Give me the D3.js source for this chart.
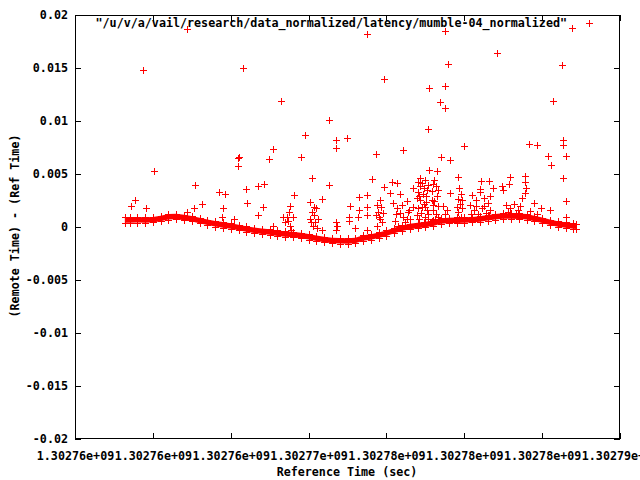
<!DOCTYPE html>
<html>
<head>
<meta charset="utf-8">
<script src="https://cdn.jsdelivr.net/npm/d3@7"></script>
<style>
body { margin: 0; background: #fff; }
text { font-family: "DejaVu Sans Mono", monospace; font-weight: bold; font-size: 11.7px; fill: #000; }
</style>
</head>
<body>
<div id="chart"></div>
<script>
// reference time is seconds since T0, values kept in ks / ms
var T0 = 1302755000;
var xTickLabels = ["1.30276e+09", "1.30276e+09", "1.30276e+09", "1.30277e+09",
	"1.30278e+09", "1.30278e+09", "1.30278e+09", "1.30279e+09"];
var yTicks = [0.02, 0.015, 0.01, 0.005, 0, -0.005, -0.01, -0.015, -0.02];
var yTickLabels = ["0.02", "0.015", "0.01", "0.005", "0", "-0.005", "-0.01", "-0.015", "-0.02"];
var seriesTitle = "\"/u/v/a/vail/research/data_normalized/latency/mumble-04_normalized\"";

// the dense band of samples (time in ks after T0, upper / lower edge in ms)
var bandTime = [3.2, 3.5, 4.0, 4.5, 5.0, 5.5, 6.0, 6.5, 7.0, 7.5, 8.0, 8.5, 9.0, 9.5, 10.0,
	10.5, 11.0, 11.5, 12.0, 12.5, 13.0, 13.5, 14.0, 14.5, 15.0, 15.5, 16.0, 16.5, 17.0, 17.5,
	18.0, 18.5, 19.0, 19.5, 20.0, 20.5, 21.0, 21.5, 22.0, 22.5, 23.0, 23.5, 24.0, 24.5, 25.0,
	25.5, 26.0, 26.5, 27.0, 27.5, 28.0, 28.5, 29.0, 29.5, 30.0, 30.5, 31.0, 31.5, 32.0, 32.2];
var bandHi = [0.92, 0.92, 0.94, 0.92, 0.95, 1.06, 1.22, 1.25, 1.16, 1.04, 0.87, 0.70, 0.56, 0.46, 0.35,
	0.22, 0.07, -0.05, -0.15, -0.22, -0.32, -0.39, -0.45, -0.55, -0.67, -0.81, -0.92, -1.01, -1.04, -1.06,
	-1.02, -0.78, -0.68, -0.51, -0.32, -0.07, 0.15, 0.31, 0.40, 0.50, 0.62, 0.83, 0.88, 0.90, 0.92,
	0.95, 1.01, 1.13, 1.22, 1.30, 1.30, 1.28, 1.22, 1.07, 0.89, 0.70, 0.55, 0.45, 0.36, 0.33];
var bandLo = [0.40, 0.40, 0.42, 0.40, 0.43, 0.54, 0.70, 0.73, 0.64, 0.52, 0.35, 0.18, 0.04, -0.06, -0.17,
	-0.30, -0.45, -0.57, -0.67, -0.74, -0.84, -0.91, -0.97, -1.07, -1.19, -1.33, -1.44, -1.53, -1.56, -1.58,
	-1.54, -1.30, -1.20, -1.03, -0.84, -0.59, -0.37, -0.21, -0.12, -0.02, 0.10, 0.31, 0.36, 0.38, 0.40,
	0.43, 0.49, 0.61, 0.70, 0.78, 0.78, 0.76, 0.70, 0.55, 0.37, 0.18, 0.03, -0.07, -0.16, -0.19];

// outliers above the band [ks, ms]
var outliers = [
	[4.37, 14.80], [7.19, 18.65], [10.79, 14.96], [13.23, 11.84], [14.77, 8.65], [16.31, 10.07],
	[16.76, 8.18], [17.47, 8.37], [16.76, 7.42], [12.72, 7.33], [18.75, 18.17], [19.84, 13.92],
	[22.73, 13.16], [22.67, 9.22], [23.76, 18.52], [23.95, 15.37], [23.76, 13.26], [23.44, 11.77],
	[23.76, 11.18], [27.10, 16.38], [30.70, 11.93], [31.28, 15.24], [31.92, 18.74], [31.34, 8.18],
	[31.34, 7.71], [21.06, 7.23], [24.98, 7.61], [29.16, 7.80], [29.67, 7.71],
	[10.47, 6.48], [10.53, 6.57], [10.47, 5.72], [12.46, 6.38], [14.51, 6.57], [19.33, 6.86],
	[23.51, 6.57], [24.08, 6.29], [30.38, 6.67], [31.53, 6.67], [30.57, 5.82], [5.07, 5.25],
	[22.73, 5.34], [23.25, 5.25], [24.60, 4.68], [27.94, 4.68], [28.90, 4.78], [28.90, 4.21],
	[31.34, 4.59], [15.22, 4.59], [19.07, 4.49], [26.07, 4.30], [26.59, 4.30], [20.36, 4.21],
	[20.68, 4.11], [27.87, 4.02], [12.14, 4.02], [16.31, 3.92], [7.71, 3.92], [11.75, 3.83],
	[27.42, 3.83], [19.84, 3.74], [28.96, 3.64], [21.71, 3.64], [26.84, 3.64], [10.98, 3.55],
	[26.01, 3.55], [27.49, 3.45], [9.25, 3.26], [9.63, 3.07], [20.23, 3.17], [24.08, 3.17],
	[28.90, 3.17], [20.87, 3.07], [14.06, 2.98], [18.75, 2.98], [18.24, 2.79], [28.71, 2.70],
	[15.86, 2.60], [3.85, 2.51], [19.59, 2.51], [31.53, 2.41], [21.32, 2.41], [15.09, 2.32],
	[29.48, 2.22], [11.05, 2.22], [8.16, 2.13], [3.60, 1.94], [13.81, 1.94], [17.66, 1.94],
	[12.07, 1.84], [15.35, 1.84], [18.75, 1.84], [19.65, 1.84], [21.71, 1.84], [4.56, 1.75],
	[7.64, 1.75], [9.50, 1.75], [18.24, 1.56], [30.51, 1.56], [7.19, 1.37], [11.75, 1.09],
	[13.36, 0.99], [14.00, 0.99], [17.60, 0.99], [9.44, 0.99], [18.75, 1.09], [18.17, 0.90],
	[31.53, 0.90], [10.21, 0.80], [17.60, 0.61], [16.76, 0.43], [12.72, 0.14], [17.98, -0.05],
	[15.86, -0.33], [18.75, -0.33], [16.76, -0.33]
];

// spiky clusters sitting on the band [ks, ms]
var clusters = [
	[13.49, 0.43], [13.68, 0.61], [13.81, 0.14], [13.74, 1.37], [13.87, -0.24], [13.62, 0.90],
	[15.22, 1.37], [15.35, 1.09], [15.41, 0.43], [15.29, 0.14], [15.09, 0.80], [15.54, -0.05],
	[15.48, 1.75], [15.16, 0.43], [15.61, 0.80],
	[16.83, 0.05],
	[19.46, 1.37], [19.52, 0.90], [19.72, 0.43], [19.40, 0.14], [19.78, 1.28], [19.40, 2.03],
	[19.59, 0.80], [19.33, 1.09],
	[20.42, 2.22], [20.68, 1.75], [20.87, 1.28], [21.06, 0.90], [21.39, 1.37], [20.55, 0.61],
	[21.19, 0.43], [21.51, 0.80], [20.62, 1.18], [21.00, 2.03], [21.32, 0.80], [20.74, 0.14],
	[21.45, 1.56],
	[22.16, 4.59], [22.28, 4.11], [22.41, 3.64], [22.03, 3.26], [22.54, 2.88], [22.16, 2.51],
	[22.41, 2.13], [22.03, 1.75], [22.61, 1.56], [22.22, 1.28], [22.48, 0.99], [22.09, 0.71],
	[22.67, 3.92], [22.35, 3.07], [21.96, 2.70], [22.54, 2.32], [22.28, 1.84], [22.16, 3.83],
	[22.67, 1.18], [22.03, 4.21], [22.48, 4.40], [22.61, 3.45], [22.09, 2.88], [22.48, 1.84],
	[22.67, 0.71], [21.96, 1.09], [22.41, 0.43],
	[23.06, 4.40], [23.18, 3.83], [22.93, 3.36], [23.25, 2.88], [23.06, 2.41], [23.31, 1.94],
	[22.99, 1.56], [23.18, 1.18], [23.12, 0.80], [22.93, 2.51], [22.99, 4.02], [23.31, 3.45],
	[22.99, 2.03], [23.31, 0.99], [22.93, 0.61],
	[24.66, 3.64], [24.79, 3.07], [24.60, 2.60], [24.73, 2.13], [24.85, 1.75], [24.60, 1.37],
	[24.79, 0.99], [24.53, 1.84], [24.85, 2.51], [24.66, 0.80],
	[25.50, 2.98], [25.76, 2.51], [25.37, 2.03], [26.01, 3.26], [26.27, 2.70], [26.52, 2.22],
	[25.63, 1.56], [26.14, 1.75], [26.39, 1.28], [25.89, 1.18], [26.65, 2.88], [26.65, 1.56],
	[25.76, 1.94], [26.27, 1.94], [25.43, 1.18], [26.59, 1.09],
	[27.68, 2.03], [27.94, 1.75], [28.19, 2.13], [28.45, 1.56], [27.81, 1.37], [28.32, 1.28],
	[28.58, 1.94],
	[23.63, 1.94], [23.89, 1.56], [23.76, 1.18], [29.22, 1.47], [29.67, 1.18], [29.93, 1.75]
];

var margin = {top: 15, right: 20, bottom: 42, left: 75};
var width = 640 - margin.left - margin.right,
	height = 481 - margin.top - margin.bottom;

var svg = d3.select("#chart").append("svg")
	.attr("width", 640)
	.attr("height", 480);

var g = svg.append("g")
	.attr("transform", "translate(" + margin.left + "," + margin.top + ")");

var xScale = d3.scaleLinear()
	.domain([T0, T0 + 35000])
	.range([0, width]);
var yScale = d3.scaleLinear()
	.domain([-0.02, 0.02])
	.range([height, 0]);

var xTicks = d3.range(0, 8).map(function (i) { return T0 + i * 5000; });

function px(t) { return xScale(T0 + t * 1000); }
function py(v) { return yScale(v / 1000); }

function plus(x, y) {
	x = Math.round(x) + 0.5;
	y = Math.round(y) + 0.5;
	return "M" + (x - 3.5) + "," + y + "H" + (x + 3.5) + "M" + x + "," + (y - 3.5) + "V" + (y + 3.5);
}

// axes, ticks pointing inward on all four sides
g.append("g")
	.attr("transform", "translate(0," + height + ")")
	.call(d3.axisBottom(xScale).tickValues(xTicks).tickSize(-6).tickPadding(13)
		.tickFormat(function (d, i) { return xTickLabels[i]; }));
g.append("g")
	.call(d3.axisTop(xScale).tickValues(xTicks).tickSize(-6).tickFormat(""));
g.append("g")
	.call(d3.axisLeft(yScale).tickValues(yTicks).tickSize(-6).tickPadding(7)
		.tickFormat(function (d, i) { return yTickLabels[i]; }));
g.append("g")
	.attr("transform", "translate(" + width + ",0)")
	.call(d3.axisRight(yScale).tickValues(yTicks).tickSize(-6).tickFormat(""));

g.selectAll(".domain").remove();
g.selectAll(".tick line").attr("stroke", "#000").attr("shape-rendering", "crispEdges");
g.selectAll(".tick text").attr("font-family", null).attr("font-size", null);

g.append("rect")
	.attr("x", 0.5).attr("y", 0.5)
	.attr("width", width - 1).attr("height", height - 1)
	.attr("fill", "none").attr("stroke", "#000")
	.attr("shape-rendering", "crispEdges");

// band
var band = bandTime.map(function (t, i) { return {t: t, hi: bandHi[i], lo: bandLo[i]}; });

var area = d3.area()
	.x(function (d) { return px(d.t); })
	.y0(function (d) { return py(d.lo); })
	.y1(function (d) { return py(d.hi); });

g.append("path")
	.datum(band)
	.attr("d", area)
	.attr("fill", "#ff0000");

var marks = [];
band.forEach(function (d) {
	marks.push([d.t, d.hi]);
	marks.push([d.t, d.lo]);
});
marks = marks.concat(clusters, outliers);

g.selectAll("path.pt")
	.data(marks)
	.enter()
	.append("path")
	.attr("class", "pt")
	.attr("d", function (d) { return plus(px(d[0]), py(d[1])); })
	.attr("stroke", "#ff0000")
	.attr("fill", "none")
	.attr("shape-rendering", "crispEdges");

// key
svg.append("text")
	.attr("x", 567)
	.attr("y", 27)
	.attr("text-anchor", "end")
	.text(seriesTitle);
svg.append("path")
	.attr("d", plus(589, 23))
	.attr("stroke", "#ff0000")
	.attr("shape-rendering", "crispEdges");

// axis titles
svg.append("text")
	.attr("x", 347)
	.attr("y", 476)
	.attr("text-anchor", "middle")
	.text("Reference Time (sec)");
svg.append("text")
	.attr("transform", "translate(19,226) rotate(-90)")
	.attr("text-anchor", "middle")
	.text("(Remote Time) - (Ref Time)");
</script>
</body>
</html>
